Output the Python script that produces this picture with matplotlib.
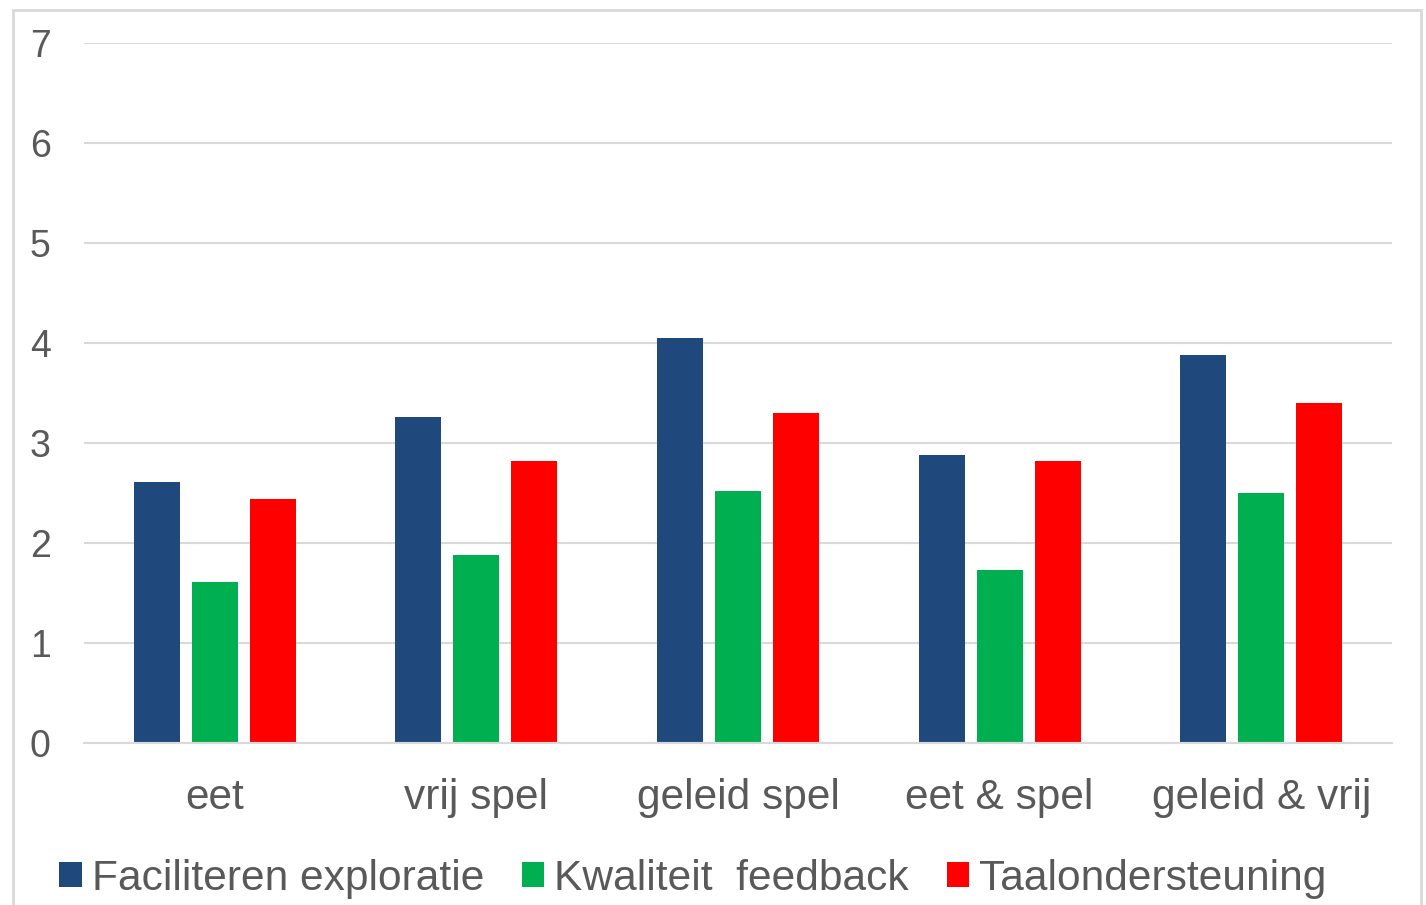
import matplotlib
matplotlib.use("Agg")
import matplotlib.pyplot as plt
import numpy as np
from matplotlib.patches import Rectangle, Patch

plt.rcParams['font.family'] = ['Liberation Sans', 'DejaVu Sans']

categories = ["eet", "vrij spel", "geleid spel", "eet & spel", "geleid & vrij"]
series_names = ["Faciliteren exploratie", "Kwaliteit  feedback", "Taalondersteuning"]
faciliteren = [2.61, 3.26, 4.05, 2.88, 3.88]
kwaliteit = [1.61, 1.88, 2.52, 1.73, 2.50]
taal = [2.44, 2.82, 3.30, 2.82, 3.40]
colors = ["#1F497D", "#00B050", "#FF0000"]
text_col = "#595959"
grid_col = "#D9D9D9"

fig = plt.figure(figsize=(14.26, 9.05), dpi=100)
ax = fig.add_axes([84/1426, 1 - 743/905, (1392-84)/1426, (743-43)/905])

x = np.arange(len(categories))
step = 0.222
width = 0.176
for i, (vals, c) in enumerate(zip([faciliteren, kwaliteit, taal], colors)):
    ax.bar(x + (i - 1) * step, vals, width, color=c, zorder=3)

ax.set_xlim(-0.5, len(categories) - 0.5)
ax.set_ylim(0, 7)
ax.set_yticks(range(0, 8))
ax.set_xticks(x)
ax.set_xticklabels(categories)
ax.grid(axis='y', color=grid_col, linewidth=1.5, zorder=0)
for s in ['left', 'right', 'top']:
    ax.spines[s].set_visible(False)
ax.spines['bottom'].set_color(grid_col)
ax.spines['bottom'].set_linewidth(1.5)
ax.spines['bottom'].set_zorder(4)
ax.tick_params(axis='y', length=0, pad=24, labelsize=27, labelcolor=text_col)
ax.tick_params(axis='x', length=0, pad=25, labelsize=30.5, labelcolor=text_col)

handles = [Patch(facecolor=c, edgecolor='none') for c in colors]
leg = fig.legend(handles, series_names, loc='center left', bbox_to_anchor=(59/1426, 1 - 879/905),
                 ncol=3, frameon=False, fontsize=30.6, handlelength=0.53, handleheight=0.53,
                 handletextpad=0.24, columnspacing=0.885, borderaxespad=0, borderpad=0)
for t in leg.get_texts():
    t.set_color(text_col)

# outer chart border
fig.patches.append(Rectangle((13/1426, -0.05), (1421-13)/1426, 1.05 - 10/905,
                             transform=fig.transFigure, fill=False,
                             edgecolor=grid_col, linewidth=2))

fig.savefig("out.png", dpi=100)
